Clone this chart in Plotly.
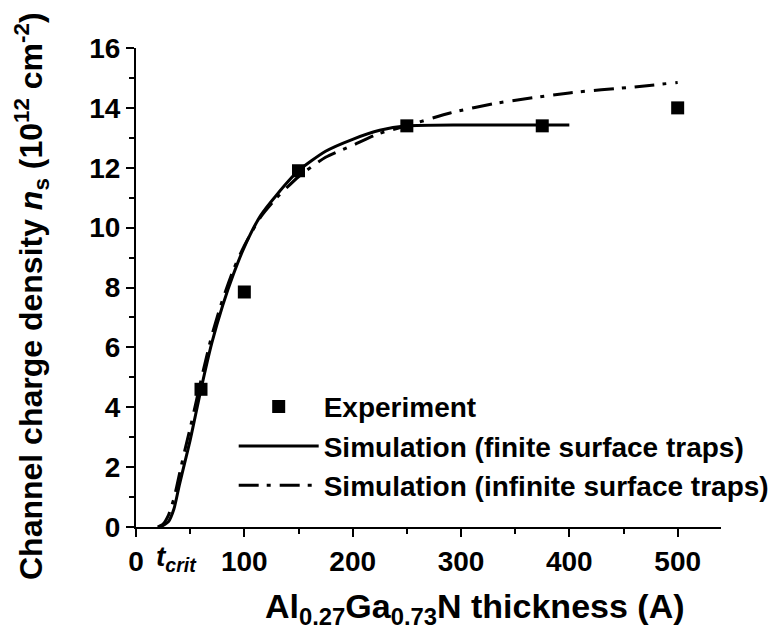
import plotly.graph_objects as go

# Measured 2DEG density vs barrier thickness
exp_thickness = [60, 100, 150, 250, 375, 500]
exp_ns = [4.6, 7.85, 11.9, 13.4, 13.4, 14.0]

# Simulation with finite surface trap density
fin_thickness = [22, 25, 30, 35, 40, 45, 50, 55, 60, 70, 80, 90, 100, 115, 130,
                 150, 175, 200, 225, 250, 300, 350, 400]
fin_ns = [0.0, 0.05, 0.18, 0.6, 1.4, 2.15, 2.9, 3.75, 4.6, 6.15, 7.4, 8.45, 9.35,
          10.4, 11.1, 11.9, 12.55, 12.95, 13.25, 13.4, 13.43, 13.43, 13.43]

# Simulation with unlimited surface traps
inf_thickness = [20, 25, 30, 35, 40, 45, 50, 55, 60, 70, 80, 90, 100, 115, 130,
                 150, 175, 200, 225, 250, 290, 335, 400, 460, 500]
inf_ns = [0.0, 0.1, 0.4, 0.95, 1.75, 2.55, 3.3, 4.1, 4.9, 6.4, 7.6, 8.6, 9.4,
          10.35, 11.0, 11.7, 12.35, 12.75, 13.15, 13.4, 13.83, 14.17, 14.5, 14.7, 14.85]

x_ticks = [0, 100, 200, 300, 400, 500]
x_ticktext = ["0", "100", "200", "300", "400", "500"]
y_ticks = [0, 2, 4, 6, 8, 10, 12, 14, 16]

FONT = "Liberation Sans, Arial, sans-serif"

fig = go.Figure()
fig.add_trace(go.Scatter(
    x=exp_thickness, y=exp_ns, mode="markers", name="Experiment",
    marker=dict(symbol="square", size=13, color="black"),
))
fig.add_trace(go.Scatter(
    x=fin_thickness, y=fin_ns, mode="lines", name="Simulation (finite surface traps)",
    line=dict(color="black", width=3, shape="spline", smoothing=0.6),
))
fig.add_trace(go.Scatter(
    x=inf_thickness, y=inf_ns, mode="lines", name="Simulation (infinite surface traps)",
    line=dict(color="black", width=3, dash="20px,8px,4px,9px", shape="spline", smoothing=0.6),
))

axis_common = dict(
    showline=True, linecolor="black", linewidth=2,
    ticks="outside", ticklen=8, tickwidth=2, tickcolor="black",
    showgrid=False, zeroline=False, automargin=False,
    tickfont=dict(family=FONT, size=28, color="black", weight="bold"),
)

fig.update_xaxes(
    range=[0, 540], tickvals=x_ticks, ticktext=x_ticktext,
    minor=dict(ticks="outside", ticklen=5, tickwidth=2, tickcolor="black", dtick=50, tick0=0),
    **axis_common,
)
fig.update_yaxes(
    range=[0, 16], tickvals=y_ticks,
    minor=dict(ticks="outside", ticklen=5, tickwidth=2, tickcolor="black", dtick=1, tick0=0),
    **axis_common,
)

plot_w = 784 - 136 - 63
plot_h = 637 - 48 - 110

fig.update_layout(
    width=784, height=637,
    margin=dict(l=136, r=63, t=48, b=110, autoexpand=False),
    plot_bgcolor="white", paper_bgcolor="white",
    font=dict(family=FONT, color="black"),
    showlegend=True,
    legend=dict(
        x=0.167, y=0.303, xanchor="left", yanchor="top",
        bgcolor="rgba(0,0,0,0)", itemwidth=80,
        font=dict(family=FONT, size=28, color="black", weight="bold"),
        tracegroupgap=0,
    ),
    annotations=[
        dict(text="<i>t<sub>crit</sub></i>", x=17.0, xref="x", y=0, yref="paper",
             xanchor="left", yanchor="top", yshift=-12, showarrow=False,
             font=dict(family=FONT, size=28, color="black", weight="bold")),
        dict(text="Al<sub>0.27</sub>Ga<sub>0.73</sub>N thickness (A)",
             x=(475 - 136) / plot_w, xref="paper", xanchor="center",
             y=0, yref="paper", yanchor="top",
             yshift=-58, showarrow=False,
             font=dict(family=FONT, size=34, color="black", weight="bold")),
        dict(text="Channel charge density <i>n</i><sub>s</sub> (10<sup>12</sup> cm<sup>-2</sup>)",
             x=0, xref="paper", xanchor="center", xshift=-105,
             y=(527 - 296) / plot_h, yref="paper",
             yanchor="middle", textangle=-90, showarrow=False,
             font=dict(family=FONT, size=32, color="black", weight="bold")),
    ],
)

fig.write_html("out.html")
